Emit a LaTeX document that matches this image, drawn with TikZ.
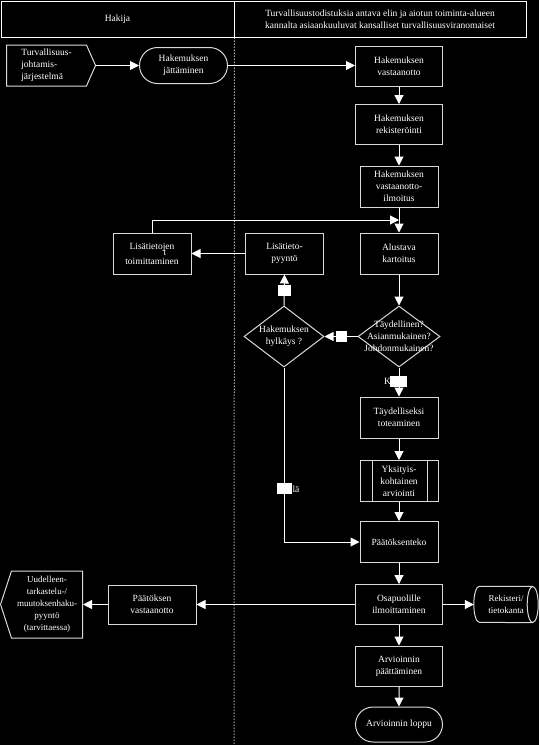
\documentclass[tikz,border=0pt]{standalone}
\usepackage{fontspec}
\setmainfont{Liberation Serif}
\usetikzlibrary{positioning, calc, arrows.meta, shapes.geometric, shapes.misc, shapes.symbols}
\tikzset{
    x=1pt, y=-1pt, % one unit is one pixel of the page
    >={Triangle[length=9pt, width=9pt]}, % filled arrow heads
    every node/.style={text=white, font=\fontsize{9.5}{12}\selectfont, align=center},
    proc/.style={rectangle, draw=white!85!black, line width=1pt, minimum width=87pt, minimum height=40pt, inner sep=2pt},
    narrow/.style={proc, minimum width=78pt, minimum height=41pt},
    term/.style={rounded rectangle, draw=white!85!black, line width=1pt, minimum height=36pt, inner sep=2pt},
    dec/.style={diamond, draw=white!85!black, line width=1pt, inner sep=0pt, minimum width=82pt, minimum height=61pt},
    offpage/.style={signal, signal from=nowhere, draw=white!85!black, line width=1pt, inner sep=2pt},
    predef/.style={narrow, path picture={
        \draw[white!85!black, line width=1pt]
            ([xshift=12pt]path picture bounding box.north west) -- ([xshift=12pt]path picture bounding box.south west)
            ([xshift=-11pt]path picture bounding box.north east) -- ([xshift=-11pt]path picture bounding box.south east);}},
    hdr/.style={rectangle, draw=white, line width=1pt, minimum height=36pt},
    lbltag/.style={rectangle, fill=white, inner sep=0pt, minimum width=13pt, minimum height=11pt},
    arr/.style={->, white, line width=1pt},
    lane/.style={white, line width=1pt, dash pattern=on 1pt off 2pt},
    dbline/.style={white!85!black, line width=1pt},
}

\begin{document}
\begin{tikzpicture}
    % tausta
    \fill[black] (0,0) rectangle (539,745);
    \useasboundingbox (0,0) rectangle (539,745);

    % otsikot
    \node[hdr, minimum width=233pt] (hakija) at (117.5,19) {Hakija};
    \node[hdr, minimum width=292pt] (viran) at (380,19) {Turvallisuustodistuksia antava elin ja aiotun toiminta-alueen\\kannalta asiaankuuluvat kansalliset turvallisuusviranomaiset};
    \coordinate (bot) at (234,745);
    \draw[lane] (hakija.south east) -- (bot);

    % hakija
    \node[offpage, signal to=east, signal pointer angle=132, minimum width=89pt, minimum height=41pt, align=left] (jarj) at (46.5,65.5) {Turvallisuus-\\johtamis-\\järjestelmä};
    \node[term, minimum width=92pt] (jatto) at (183.5,65.5) {Hakemuksen\\jättäminen};

    % viranomainen, pääsarake
    \begin{scope}[on grid]
        \node[proc] (vast) at (399,66) {Hakemuksen\\vastaanotto};
        \node[proc] (rek) [below=58.5pt of vast] {Hakemuksen\\rekisteröinti};
        \node[narrow] (ilm) [below=62pt of rek] {Hakemuksen\\vastaanotto-\\ilmoitus};
        \node[narrow] (kart) [below=67pt of ilm] {Alustava\\kartoitus};
        \node[dec, label={center:Täydellinen?\\Asianmukainen?\\Johdonmukainen?}] (tayd) [below=83pt of kart] {};
        \node[narrow] (tot) [below=81pt of tayd] {Täydelliseksi\\toteaminen};
        \node[predef] (yks) [below=63.5pt of tot] {Yksityis-\\kohtainen\\arviointi};
        \node[narrow] (paat) [below=61pt of yks] {Päätöksenteko};
        \node[proc] (osap) [below=62.5pt of paat] {Osapuolille\\ilmoittaminen};
        \node[proc] (arvp) [below=61.5pt of osap] {Arvioinnin\\päättäminen};
        \node[term, minimum width=91pt, minimum height=35pt] (loppu) [below=58.5pt of arvp] {Arvioinnin loppu};

        % sivusolmut
        \node[dec, minimum width=80pt, label={center:Hakemuksen\\hylkäys ?}] (hylk) [left=115pt of tayd] {};
        \node[narrow] (pyynto) [left=114.5pt of kart] {Lisätieto-\\pyyntö};
        \node[narrow] (toim) [left=132.5pt of pyynto] {Lisätietojen\\[-6pt]\hspace*{26pt}t\\[-3pt]toimittaminen};
        \node[proc, minimum width=88pt, minimum height=39pt] (paatv) [left=247pt of osap] {Päätöksen\\vastaanotto};
        \node[offpage, signal to=west, signal pointer angle=144, minimum width=82pt, minimum height=67pt, font=\fontsize{9}{12}\selectfont] (uud) [left=105pt of paatv] {Uudelleen-\\tarkastelu-/\\muutoksenhaku-\\pyyntö\\(tarvittaessa)};
        \node[minimum width=64pt, minimum height=36pt, inner sep=0pt, font=\fontsize{9}{12}\selectfont] (rekis) [right=107pt of osap] {Rekisteri/\\tietokanta};
    \end{scope}
    % tietokannan muoto
    \draw[dbline] ([xshift=-5.5pt]rekis.north east) -- ([xshift=5.5pt]rekis.north west)
        arc[start angle=90, end angle=270, x radius=5.5pt, y radius=18pt] -- ([xshift=-5.5pt]rekis.south east);
    \draw[dbline] ([xshift=-5.5pt]rekis.east) ellipse [x radius=5.5pt, y radius=18pt];
    \coordinate (yhd) at ($(ilm.south)!0.5!(kart.north)$);

    % yhteydet
    \draw[arr] (jarj.east) -- (jatto.west);
    \draw[arr] (jatto.east) -- (jatto.east -| vast.west);
    \draw[arr] (vast) -- (rek);
    \draw[arr] (rek) -- (ilm);
    \draw[arr] (ilm) -- (kart);
    \draw[arr] (toim.north) |- (yhd);
    \draw[arr] (kart) -- (tayd);
    \draw[arr] (tayd.west) -- (hylk.east);
    \draw[arr] (hylk.north) -- (pyynto.south);
    \draw[arr] (pyynto.west) -- (toim.east);
    \draw[arr] (tayd.south) -- (tot.north);
    \draw[arr] (tot) -- (yks);
    \draw[arr] (yks) -- (paat);
    \draw[arr] (hylk.south) |- (paat.west);
    \draw[arr] (paat) -- (osap);
    \draw[arr] (osap) -- (arvp);
    \draw[arr] (arvp) -- (loppu);
    \draw[arr] (osap.west) -- (paatv.east);
    \draw[arr] (paatv.west) -- (uud.east);
    \draw[arr] (osap.east) -- (rekis.west);

    % valintojen merkinnät
    \node[lbltag, minimum width=11pt] (ei1) at (341.5,336) {};
    \node[lbltag] (ei2) at (284.5,290.5) {};
    \node (k1) at (387.5,381) {K};
    \node[lbltag, minimum width=17pt] (kyl1) at (398.5,381.5) {};
    \node[lbltag, minimum width=15pt] (kyl2) at (284.5,488.5) {};
    \node (k2) at (296,489) {lä};
\end{tikzpicture}
\end{document}
